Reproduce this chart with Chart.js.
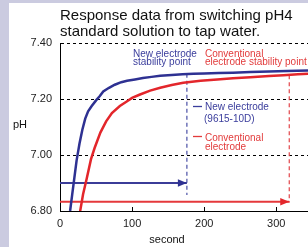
<!DOCTYPE html>
<html>
<head>
<meta charset="utf-8">
<script src="https://cdn.jsdelivr.net/npm/chart.js@4/dist/chart.umd.min.js"></script>
<style>
  html, body { margin: 0; padding: 0; background: #ffffff; overflow: hidden; }
  #wrap { position: relative; width: 308px; height: 247px; }
</style>
</head>
<body>
<div id="wrap"><canvas id="phChart" width="308" height="247"></canvas></div>
<script>
// pH response after moving from pH4 standard to tap water
const newTime = [12, 14, 17, 20, 23, 27, 31, 35, 39, 44, 50, 55, 60, 68, 76, 85, 93, 104, 115, 127, 139, 155, 170, 185, 200, 220, 240, 264, 290, 315, 344];
const newPH   = [6.77, 6.80, 6.86, 6.92, 6.98, 7.04, 7.09, 7.13, 7.156, 7.175, 7.195, 7.21, 7.227, 7.24, 7.251, 7.26, 7.265, 7.27, 7.275, 7.279, 7.283, 7.286, 7.288, 7.29, 7.291, 7.293, 7.294, 7.296, 7.298, 7.300, 7.302];

const convTime = [26, 28, 32, 37, 43, 48, 56, 64, 72, 83, 92, 100, 111, 125, 139, 155, 171, 195, 218, 240, 264, 290, 310, 330, 344];
const convPH   = [6.77, 6.80, 6.86, 6.915, 6.985, 7.025, 7.08, 7.12, 7.15, 7.175, 7.19, 7.204, 7.216, 7.23, 7.24, 7.25, 7.258, 7.265, 7.27, 7.274, 7.278, 7.282, 7.285, 7.288, 7.29];

// stability points (seconds) and arrow levels
const stableTime = [176, 318];
const arrowPH = [6.90, 6.833];
const dashTop = [7.29, 7.285];
const dashBottom = [6.857, 6.83];

const xTicks = [0, 100, 200, 300];
const yTicks = [6.80, 7.00, 7.20, 7.40];

const BLUE = '#2e3192';
const RED = '#e3262b';
const BLUE_TXT = '#3a3d9c';
const RED_TXT = '#e23b3b';
const FONT = '"Liberation Sans", Arial, sans-serif';

function pts(xs, ys) {
    return xs.map((x, i) => ({ x: x, y: ys[i] }));
}

const bgPlugin = {
    id: 'bg',
    beforeDraw(chart) {
        const c = chart.ctx;
        c.save();
        c.fillStyle = '#cbcbe0';
        c.fillRect(0, 0, chart.width, chart.height);
        c.fillStyle = '#ffffff';
        c.fillRect(9, 3, chart.width - 9, chart.height - 3);
        c.restore();
    }
};

const extrasPlugin = {
    id: 'extras',
    afterDatasetsDraw(chart) {
        const c = chart.ctx;
        const xs = chart.scales.x, ys = chart.scales.y;
        c.save();
        // arrowheads
        [[2, BLUE], [3, RED]].forEach(([idx, col]) => {
            const meta = chart.getDatasetMeta(idx);
            const p = meta.data[meta.data.length - 1];
            c.fillStyle = col;
            c.beginPath();
            c.moveTo(p.x, p.y);
            c.lineTo(p.x - 9, p.y - 3.8);
            c.lineTo(p.x - 9, p.y + 3.8);
            c.closePath();
            c.fill();
        });
        // inward ticks on x axis
        c.strokeStyle = '#000';
        c.lineWidth = 1;
        xTicks.forEach(v => {
            const px = Math.round(xs.getPixelForValue(v)) + 0.5;
            c.beginPath();
            c.moveTo(px, ys.bottom);
            c.lineTo(px, ys.bottom - 4);
            c.stroke();
        });
        c.restore();
    },
    afterDraw(chart) {
        const c = chart.ctx;
        const a = chart.chartArea;
        c.save();
        c.textBaseline = 'alphabetic';
        c.textAlign = 'left';
        // title
        c.fillStyle = '#111';
        c.font = '15px ' + FONT;
        c.fillText('Response data from switching pH4', a.left, 20);
        c.fillText('standard solution to tap water.', a.left, 35.5);
        // axis titles
        c.font = '11px ' + FONT;
        c.fillText('pH', 13, 128);
        c.textAlign = 'center';
        c.fillText('second', 167, 243);
        c.textAlign = 'left';
        // stability point notes
        c.font = '10px ' + FONT;
        c.fillStyle = BLUE_TXT;
        c.fillText('New electrode', 133, 57);
        c.fillText('stability point', 133, 65);
        c.fillStyle = RED_TXT;
        c.fillText('Conventional', 205, 57);
        c.fillText('electrode stability point', 205, 65);
        // key
        c.lineWidth = 1.3;
        c.strokeStyle = BLUE_TXT;
        c.beginPath(); c.moveTo(193, 106.5); c.lineTo(202, 106.5); c.stroke();
        c.fillStyle = BLUE_TXT;
        c.fillText('New electrode', 205, 110);
        c.fillText('(9615-10D)', 204, 121.5);
        c.strokeStyle = RED_TXT;
        c.beginPath(); c.moveTo(193, 136.5); c.lineTo(202, 136.5); c.stroke();
        c.fillStyle = RED_TXT;
        c.fillText('Conventional', 205, 140.5);
        c.fillText('electrode', 205, 149.5);
        c.restore();
    }
};

document.addEventListener('DOMContentLoaded', function() {
    const ctx = document.getElementById('phChart').getContext('2d');
    new Chart(ctx, {
        type: 'line',
        data: {
            datasets: [
                { data: pts(newTime, newPH), borderColor: BLUE, borderWidth: 2.5, order: 1 },
                { data: pts(convTime, convPH), borderColor: RED, borderWidth: 2.5, order: 2 },
                { data: pts([0, stableTime[0]], [arrowPH[0], arrowPH[0]]), borderColor: '#3b3c98', borderWidth: 1.8, order: 3 },
                { data: pts([0, stableTime[1]], [arrowPH[1], arrowPH[1]]), borderColor: '#e5383b', borderWidth: 1.8, order: 4 },
                { data: pts([stableTime[0], stableTime[0]], [dashTop[0], dashBottom[0]]), borderColor: '#4a4fa6', borderWidth: 1.2, borderDash: [4, 3], order: 5 },
                { data: pts([stableTime[1], stableTime[1]], [dashTop[1], dashBottom[1]]), borderColor: '#e2454a', borderWidth: 1.2, borderDash: [4, 3], order: 6 }
            ]
        },
        options: {
            responsive: false,
            animation: false,
            clip: 0,
            elements: { point: { radius: 0 }, line: { tension: 0 } },
            layout: { padding: { top: 43, right: 0, bottom: 0, left: 0 } },
            plugins: { legend: { display: false }, tooltip: { enabled: false } },
            scales: {
                x: {
                    type: 'linear',
                    min: 0,
                    max: 344,
                    afterBuildTicks: s => { s.ticks = xTicks.map(v => ({ value: v })); },
                    afterFit: s => { s.height = 36; },
                    grid: { display: false, drawTicks: false },
                    border: { color: '#000', width: 1 },
                    ticks: { color: '#222', font: { size: 11, family: FONT }, padding: 6, maxRotation: 0 }
                },
                y: {
                    min: 6.8,
                    max: 7.4,
                    afterBuildTicks: s => { s.ticks = yTicks.map(v => ({ value: v })); },
                    afterFit: s => { s.width = 60; },
                    grid: {
                        color: c => (c.tick && c.tick.value === 6.8 ? 'rgba(0,0,0,0)' : '#000'),
                        lineWidth: 1,
                        drawTicks: false
                    },
                    border: { color: '#000', width: 1, dash: [3, 3] },
                    ticks: {
                        color: '#222',
                        font: { size: 11, family: FONT },
                        padding: 8,
                        callback: v => v.toFixed(2)
                    }
                }
            }
        },
        plugins: [bgPlugin, extrasPlugin]
    });
});
</script>
</body>
</html>
